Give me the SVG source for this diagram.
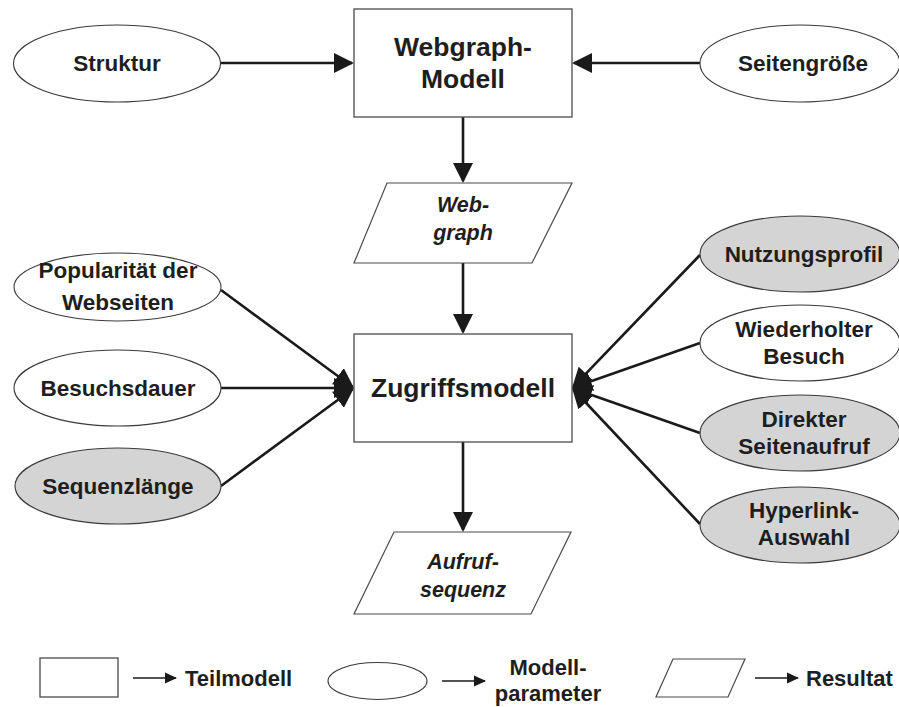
<svg xmlns="http://www.w3.org/2000/svg" width="899" height="707" viewBox="0 0 899 707">
  <style>
    .box { fill: #ffffff; stroke: #4a4a4a; stroke-width: 1.3; }
    .par { fill: #ffffff; stroke: #4a4a4a; stroke-width: 1.2; }
    .ell { fill: #ffffff; stroke: #3a3a3a; stroke-width: 1.1; }
    .ell.grey { fill: #d4d4d4; }
    .lbl { font-family: "Liberation Sans", Arial, sans-serif; font-weight: bold; fill: #1e1e1e; text-anchor: middle; font-size: 22.5px; }
    .big { font-size: 26.5px; }
    .res { font-style: italic; font-size: 21.5px; }
    .leg { font-family: "Liberation Sans", Arial, sans-serif; font-weight: bold; fill: #1e1e1e; font-size: 22px; }
    .conn { stroke: #1a1a1a; stroke-width: 2.6; fill: none; marker-end: url(#head); }
    .legconn { stroke: #1a1a1a; stroke-width: 1.6; fill: none; marker-end: url(#smallhead); }
  </style>
  <defs>
    <marker id="head" markerUnits="userSpaceOnUse" markerWidth="20" markerHeight="20" refX="18" refY="10" orient="auto">
      <path d="M0,0 L20,10 L0,20 z" fill="#1a1a1a"/>
    </marker>
    <marker id="smallhead" markerUnits="userSpaceOnUse" markerWidth="12" markerHeight="12" refX="11" refY="6" orient="auto">
      <path d="M0,0.5 L12,6 L0,11.5 z" fill="#1a1a1a"/>
    </marker>
  </defs>

  <rect width="899" height="707" fill="#ffffff"/>

  <!-- connectors -->
  <g id="connectors">
    <line class="conn" x1="220" y1="63" x2="352" y2="63"/>
    <line class="conn" x1="700" y1="63" x2="574" y2="63"/>
    <line class="conn" x1="463" y1="117" x2="463" y2="181"/>
    <line class="conn" x1="463" y1="263" x2="463" y2="332"/>
    <line class="conn" x1="463" y1="442" x2="463" y2="530"/>
    <line class="conn" x1="221" y1="290" x2="352.4" y2="386.8"/>
    <line class="conn" x1="221" y1="388" x2="352" y2="388"/>
    <line class="conn" x1="221" y1="486" x2="352.4" y2="389.2"/>
    <line class="conn" x1="700" y1="255" x2="573.4" y2="386.6"/>
    <line class="conn" x1="700" y1="343" x2="573.9" y2="387.3"/>
    <line class="conn" x1="700" y1="433" x2="573.9" y2="388.7"/>
    <line class="conn" x1="700" y1="524" x2="573.4" y2="389.5"/>
  </g>

  <!-- sub-models -->
  <g id="webgraph-modell">
    <rect class="box" x="354" y="9" width="218" height="108"/>
    <text class="lbl big" x="463" y="56">Webgraph-</text>
    <text class="lbl big" x="463" y="88">Modell</text>
  </g>
  <g id="zugriffsmodell">
    <rect class="box" x="354" y="334" width="218" height="108"/>
    <text class="lbl big" x="463" y="397">Zugriffsmodell</text>
  </g>

  <!-- results -->
  <g id="webgraph">
    <polygon class="par" points="387,183 572,183 532,263 354,263"/>
    <text class="lbl res" x="463" y="212">Web-</text>
    <text class="lbl res" x="463" y="240">graph</text>
  </g>
  <g id="aufrufsequenz">
    <polygon class="par" points="394,532 571,532 531,614 354,614"/>
    <text class="lbl res" x="463" y="569">Aufruf-</text>
    <text class="lbl res" x="463" y="597">sequenz</text>
  </g>

  <!-- model parameters -->
  <g id="struktur">
    <ellipse class="ell" cx="117" cy="63.5" rx="103.5" ry="38.5"/>
    <text class="lbl" x="117" y="71">Struktur</text>
  </g>
  <g id="seitengroesse">
    <ellipse class="ell" cx="800" cy="63.5" rx="100" ry="38.5"/>
    <text class="lbl" x="803" y="71">Seitengröße</text>
  </g>
  <g id="popularitaet">
    <ellipse class="ell" cx="117.5" cy="287" rx="103.5" ry="34"/>
    <text class="lbl" x="118" y="278">Popularität der</text>
    <text class="lbl" x="118" y="310">Webseiten</text>
  </g>
  <g id="besuchsdauer">
    <ellipse class="ell" cx="117.5" cy="388" rx="103.5" ry="38"/>
    <text class="lbl" x="118" y="396">Besuchsdauer</text>
  </g>
  <g id="sequenzlaenge">
    <ellipse class="ell grey" cx="118" cy="486" rx="103" ry="38"/>
    <text class="lbl" x="118" y="494">Sequenzlänge</text>
  </g>
  <g id="nutzungsprofil">
    <ellipse class="ell grey" cx="800" cy="254" rx="100" ry="38"/>
    <text class="lbl" x="804" y="262">Nutzungsprofil</text>
  </g>
  <g id="wiederholter-besuch">
    <ellipse class="ell" cx="800" cy="343" rx="100" ry="38"/>
    <text class="lbl" x="804" y="337">Wiederholter</text>
    <text class="lbl" x="804" y="364">Besuch</text>
  </g>
  <g id="direkter-seitenaufruf">
    <ellipse class="ell grey" cx="800" cy="433" rx="100" ry="38"/>
    <text class="lbl" x="804" y="427">Direkter</text>
    <text class="lbl" x="804" y="454">Seitenaufruf</text>
  </g>
  <g id="hyperlink-auswahl">
    <ellipse class="ell grey" cx="800" cy="525" rx="100" ry="38"/>
    <text class="lbl" x="804" y="518">Hyperlink-</text>
    <text class="lbl" x="804" y="545">Auswahl</text>
  </g>

  <!-- legend -->
  <g id="legend">
    <rect class="box" x="40" y="658" width="78" height="39"/>
    <line class="legconn" x1="133" y1="678" x2="176" y2="678"/>
    <text class="leg" x="185" y="686">Teilmodell</text>

    <ellipse class="ell" cx="377.5" cy="681" rx="49.5" ry="18.5"/>
    <line class="legconn" x1="442" y1="681" x2="485" y2="681"/>
    <text class="leg" x="548" y="675" text-anchor="middle">Modell-</text>
    <text class="leg" x="548" y="701" text-anchor="middle">parameter</text>

    <polygon class="par" points="673,659 745,659 728,697 656,697"/>
    <line class="legconn" x1="755" y1="678" x2="798" y2="678"/>
    <text class="leg" x="806" y="686">Resultat</text>
  </g>
</svg>
